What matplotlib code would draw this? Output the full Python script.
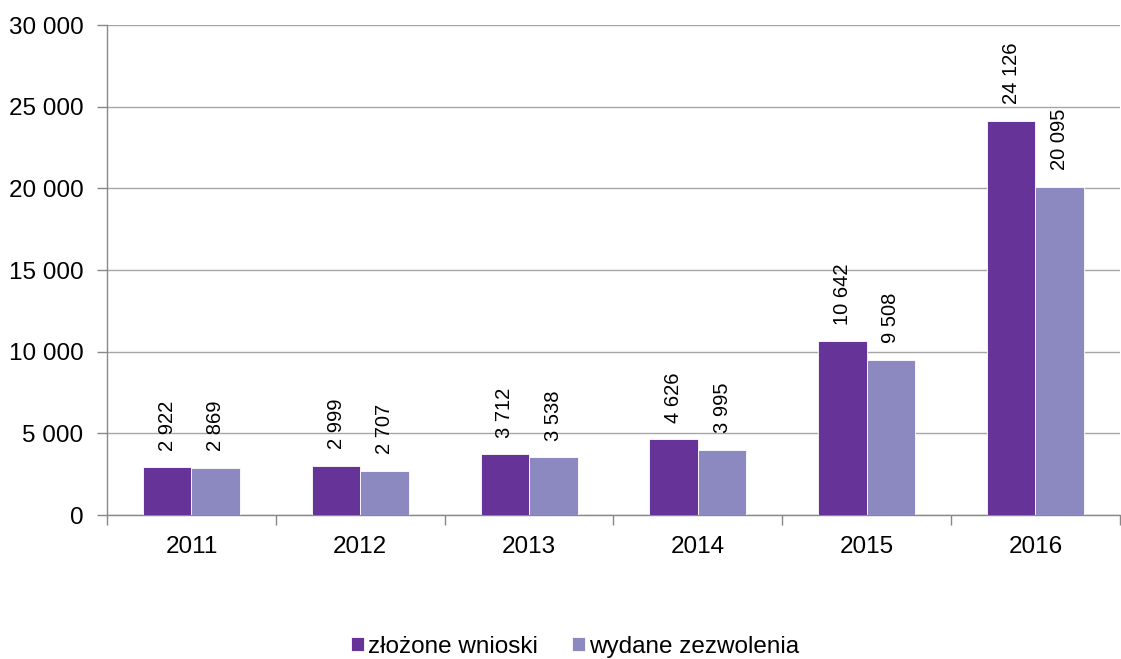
import matplotlib.pyplot as plt
import numpy as np

years = ['2011', '2012', '2013', '2014', '2015', '2016']
wnioski = [2922, 2999, 3712, 4626, 10642, 24126]
zezwolenia = [2869, 2707, 3538, 3995, 9508, 20095]
series_names = ['złożone wnioski', 'wydane zezwolenia']

plt.rcParams['font.family'] = ['Liberation Sans', 'DejaVu Sans']

def fmt(v):
    return f"{v:,}".replace(",", " ")

fig = plt.figure(figsize=(11.21, 6.59), dpi=100)
ax = fig.add_axes([0.0955, 0.2185, 0.9035, 0.7435])

x = np.arange(len(years))
w = 0.287
dark = '#663399'
light = '#8b89c0'
b1 = ax.bar(x - w / 2, wnioski, w, color=dark, edgecolor='white', linewidth=0.6, label=series_names[0], zorder=3)
b2 = ax.bar(x + w / 2, zezwolenia, w, color=light, edgecolor='white', linewidth=0.6, label=series_names[1], zorder=3)

for bars, vals in [(b1, wnioski), (b2, zezwolenia)]:
    for b, v in zip(bars, vals):
        ax.annotate(fmt(v), (b.get_x() + b.get_width() / 2, v), xytext=(0, 12),
                    textcoords='offset points', rotation=90, ha='center', va='bottom',
                    fontsize=14.5)

ax.set_xlim(-0.5, len(years) - 0.5)
ax.set_ylim(0, 30000)
ax.set_yticks(range(0, 30001, 5000))
ax.set_yticklabels([fmt(v) for v in range(0, 30001, 5000)], fontsize=17.5)
ax.set_xticks(x)
ax.set_xticklabels(years, fontsize=17.5)
ax.tick_params(axis='x', length=0, pad=15)
ax.set_xticks(np.arange(-0.5, len(years)), minor=True)
ax.tick_params(axis='x', which='minor', length=7, color='#888888', width=1)
ax.tick_params(axis='y', length=7, color='#888888', width=1, pad=10)

ax.grid(axis='y', color='#a6a6a6', linewidth=1, zorder=0)
for s in ['top', 'right']:
    ax.spines[s].set_visible(False)
for s in ['left', 'bottom']:
    ax.spines[s].set_color('#888888')
    ax.spines[s].set_linewidth(1)

fig.legend(loc='lower center', bbox_to_anchor=(0.513, -0.031), ncol=2, frameon=False,
           fontsize=17.5, handlelength=0.55, handleheight=0.55, handletextpad=0.15, columnspacing=1.4)

fig.savefig('out.png', dpi=100)
